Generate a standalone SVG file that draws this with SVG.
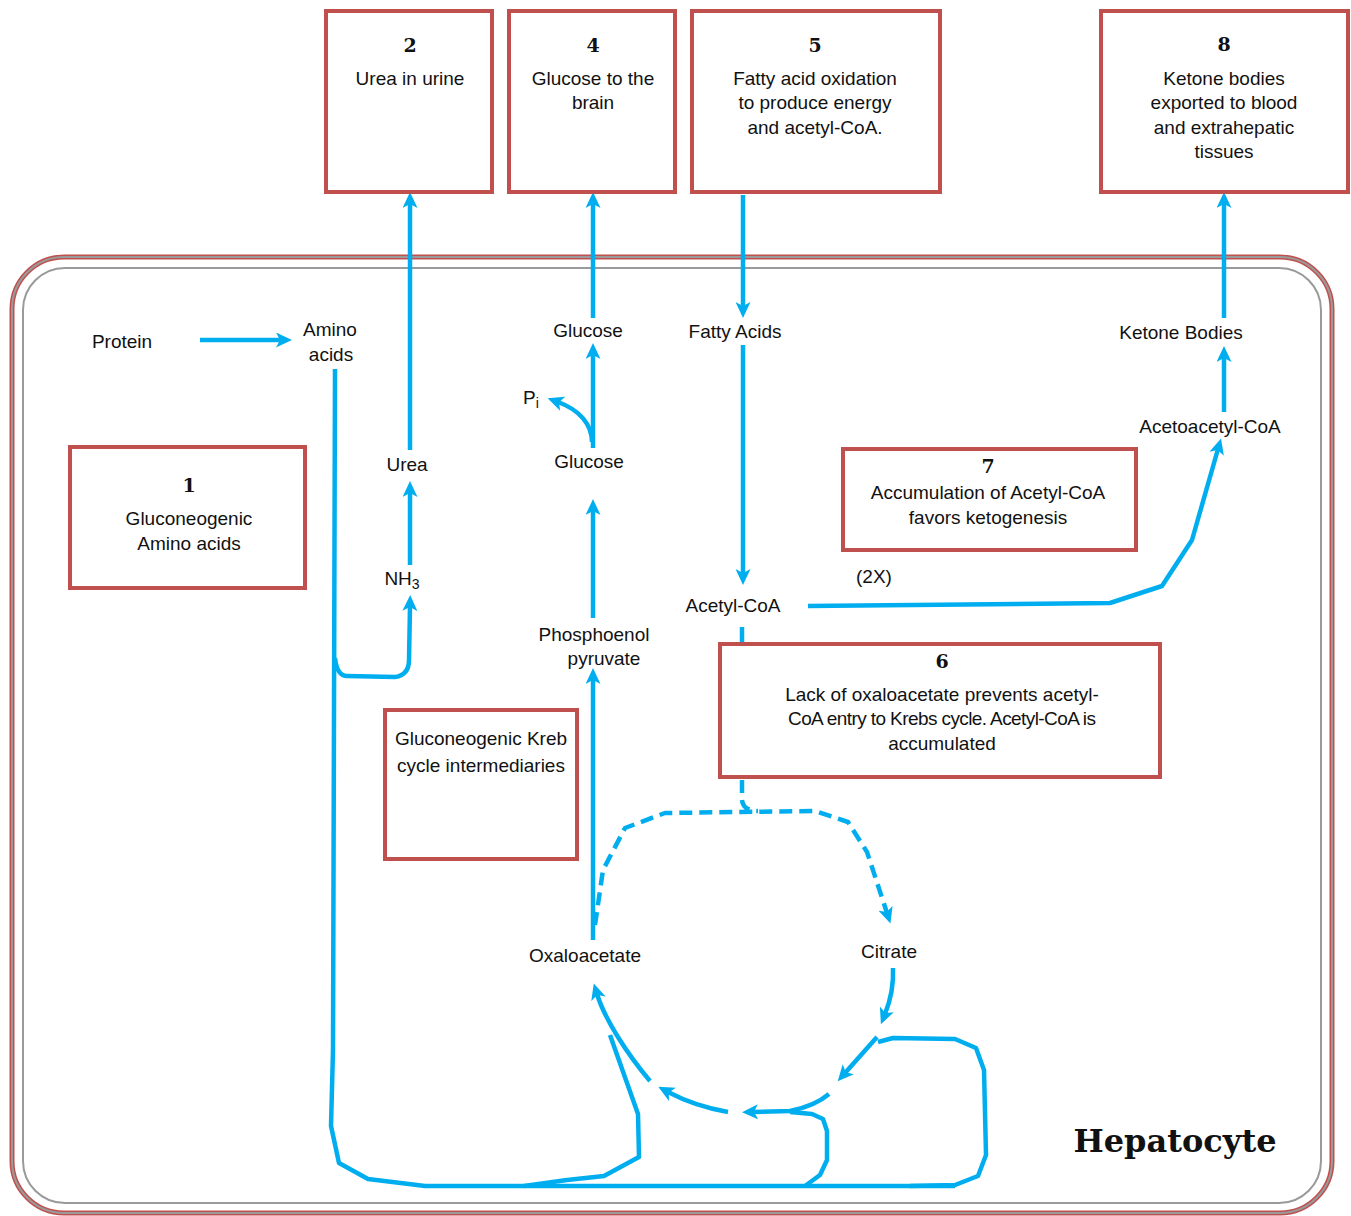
<svg xmlns="http://www.w3.org/2000/svg" width="1351" height="1216" viewBox="0 0 1351 1216">
<defs>
<marker id="ah" markerUnits="userSpaceOnUse" markerWidth="17" markerHeight="15" refX="5" refY="7.5" orient="auto">
<path d="M0,0 L16,7.5 L0,15 L4,7.5 z" fill="#00AEEF"/>
</marker>
<style>
.box{fill:#fff;stroke:#C0504D;stroke-width:4}
.c{fill:none;stroke:#00AEEF;stroke-width:4.5;stroke-linejoin:round}
.d{stroke-dasharray:13 7}
.t{font-family:"Liberation Sans",Arial,sans-serif;font-size:19px;fill:#111;text-anchor:middle}
.l{font-family:"Liberation Sans",Arial,sans-serif;font-size:19px;fill:#111;text-anchor:middle}
.n{font-family:"DejaVu Serif","Liberation Serif",serif;font-weight:bold;font-size:19px;fill:#111;text-anchor:middle}
.h{font-family:"DejaVu Serif","Liberation Serif",serif;font-weight:bold;font-size:32px;fill:#111;text-anchor:middle}
</style>
</defs>
<rect width="1351" height="1216" fill="#fff"/>
<g id="cell">
<rect x="12" y="257" width="1320" height="956" rx="52" fill="none" stroke="#C0504D" stroke-width="5"/>
<rect x="12" y="257" width="1320" height="956" rx="52" fill="none" stroke="#9a9a9a" stroke-width="2"/>
<rect x="23" y="268" width="1298" height="935" rx="42" fill="none" stroke="#9a9a9a" stroke-width="2"/>
<text class="h" x="1175" y="1152">Hepatocyte</text>
</g>
<g id="connectors">
<path class="c" d="M200,340 L281,340" marker-end="url(#ah)"/>
<path class="c" d="M335,369 L333,1050 L331,1126 L339,1163 L368,1179 L425,1186 L955,1186"/>
<path class="c" d="M335,658 Q337,676 347,676 L395,677 Q409,675 409,660 L410,606" marker-end="url(#ah)"/>
<path class="c" d="M410,565 L410,492" marker-end="url(#ah)"/>
<path class="c" d="M410,450 L410,203" marker-end="url(#ah)"/>
<path class="c" d="M593,318 L593,203" marker-end="url(#ah)"/>
<path class="c" d="M593,448 L593,354" marker-end="url(#ah)"/>
<path class="c" d="M592,442 C592,425 580,410 558,402" marker-end="url(#ah)"/>
<path class="c" d="M593,618 L593,510" marker-end="url(#ah)"/>
<path class="c" d="M593,940 L593,679" marker-end="url(#ah)"/>
<path class="c" d="M743,195 L743,307" marker-end="url(#ah)"/>
<path class="c" d="M743,345 L743,574" marker-end="url(#ah)"/>
<path class="c" d="M808,606 L1110,603 L1162,586 L1192,540 L1218,449" marker-end="url(#ah)"/>
<path class="c" d="M1224,412 L1224,357" marker-end="url(#ah)"/>
<path class="c" d="M1224,318 L1224,203" marker-end="url(#ah)"/>
<path class="c" d="M742,627 L742,644"/>
<path class="c d" d="M742,780 L742,800 Q743,811 758,811"/>
<path class="c d" d="M595,925 L603,870 L625,828 L665,813 L815,811 L848,822 L867,852 L887,913" marker-end="url(#ah)"/>
<path class="c" d="M893,968 C894,990 889,1004 885,1014" marker-end="url(#ah)"/>
<path class="c" d="M877,1037 L845,1073" marker-end="url(#ah)"/>
<path class="c" d="M878,1042 L893,1038 L955,1039 L976,1048 L984,1070 L986,1155 L978,1176 L955,1185 L910,1186"/>
<path class="c" d="M829,1094 Q815,1106 790,1111 L753,1112" marker-end="url(#ah)"/>
<path class="c" d="M790,1112 L812,1114 L823,1119 L827,1131 L827,1160 L820,1175 L805,1186"/>
<path class="c" d="M728,1112 C705,1108 685,1101 668,1092" marker-end="url(#ah)"/>
<path class="c" d="M650,1081 C628,1055 605,1020 597,994" marker-end="url(#ah)"/>
<path class="c" d="M610,1035 L638,1114 L639,1157 L604,1176 L567,1180 L524,1186"/>
</g>
<g id="box2">
<rect class="box" x="326" y="11" width="166" height="181"/>
<text class="n" x="410" y="52">2</text>
<text class="t" x="410" y="85">Urea in urine</text>
</g>
<g id="box4">
<rect class="box" x="509" y="11" width="166" height="181"/>
<text class="n" x="593" y="52">4</text>
<text class="t" x="593" y="85">Glucose to the</text>
<text class="t" x="593" y="109">brain</text>
</g>
<g id="box5">
<rect class="box" x="692" y="11" width="248" height="181"/>
<text class="n" x="815" y="52">5</text>
<text class="t" x="815" y="85">Fatty acid oxidation</text>
<text class="t" x="815" y="109">to produce energy</text>
<text class="t" x="815" y="134">and acetyl-CoA.</text>
</g>
<g id="box8">
<rect class="box" x="1101" y="11" width="247" height="181"/>
<text class="n" x="1224" y="51">8</text>
<text class="t" x="1224" y="85">Ketone bodies</text>
<text class="t" x="1224" y="109">exported to blood</text>
<text class="t" x="1224" y="134">and extrahepatic</text>
<text class="t" x="1224" y="158">tissues</text>
</g>
<g id="box1">
<rect class="box" x="70" y="447" width="235" height="141"/>
<text class="n" x="189" y="492">1</text>
<text class="t" x="189" y="525">Gluconeogenic</text>
<text class="t" x="189" y="550">Amino acids</text>
</g>
<g id="box7">
<rect class="box" x="843" y="449" width="293" height="101"/>
<text class="n" x="988" y="473">7</text>
<text class="t" x="988" y="499">Accumulation of Acetyl-CoA</text>
<text class="t" x="988" y="524">favors ketogenesis</text>
</g>
<g id="box6">
<rect class="box" x="720" y="644" width="440" height="133"/>
<text class="n" x="942" y="668">6</text>
<text class="t" x="942" y="701">Lack of oxaloacetate prevents acetyl-</text>
<text class="t" x="942" y="725" textLength="308">CoA entry to Krebs cycle. Acetyl-CoA is</text>
<text class="t" x="942" y="750">accumulated</text>
</g>
<g id="boxKreb">
<rect class="box" x="385" y="710" width="192" height="149"/>
<text class="t" x="481" y="745">Gluconeogenic Kreb</text>
<text class="t" x="481" y="772">cycle intermediaries</text>
</g>
<g id="labels">
<text class="l" x="122" y="348">Protein</text>
<text class="l" x="330" y="336">Amino</text>
<text class="l" x="331" y="361">acids</text>
<text class="l" x="407" y="471">Urea</text>
<text class="l" x="402" y="585">NH<tspan font-size="14" dy="4">3</tspan></text>
<text class="l" x="531" y="404">P<tspan font-size="14" dy="4">i</tspan></text>
<text class="l" x="588" y="337">Glucose</text>
<text class="l" x="589" y="468">Glucose</text>
<text class="l" x="594" y="641">Phosphoenol</text>
<text class="l" x="604" y="665">pyruvate</text>
<text class="l" x="735" y="338">Fatty Acids</text>
<text class="l" x="733" y="612">Acetyl-CoA</text>
<text class="l" x="874" y="583">(2X)</text>
<text class="l" x="1181" y="339">Ketone Bodies</text>
<text class="l" x="1210" y="433">Acetoacetyl-CoA</text>
<text class="l" x="585" y="962">Oxaloacetate</text>
<text class="l" x="889" y="958">Citrate</text>
</g>
</svg>
